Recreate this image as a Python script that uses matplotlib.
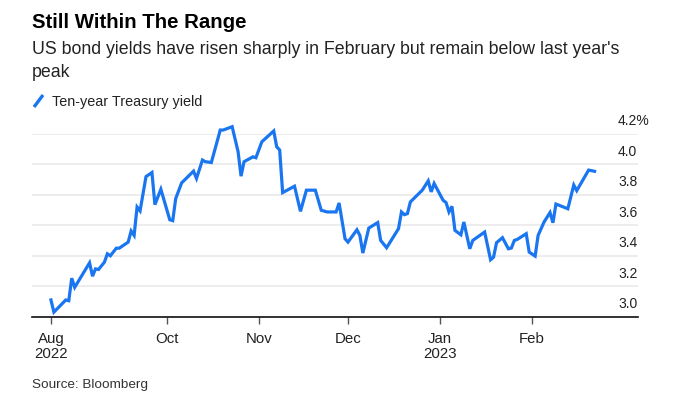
import matplotlib
matplotlib.use("Agg")
import matplotlib.pyplot as plt
from matplotlib.lines import Line2D
import pandas as pd

# 10y Treasury yield at the line's vertices
dates = [
    "2022-08-23", "2022-08-24", "2022-08-28", "2022-08-29", "2022-08-30", "2022-08-31",
    "2022-09-05", "2022-09-06", "2022-09-07", "2022-09-08", "2022-09-10", "2022-09-11",
    "2022-09-12", "2022-09-14", "2022-09-15", "2022-09-18", "2022-09-19", "2022-09-20",
    "2022-09-21", "2022-09-22", "2022-09-24", "2022-09-26", "2022-09-27", "2022-09-29",
    "2022-10-02", "2022-10-03", "2022-10-04", "2022-10-06", "2022-10-10", "2022-10-11",
    "2022-10-13", "2022-10-14", "2022-10-16", "2022-10-19", "2022-10-20", "2022-10-23",
    "2022-10-25", "2022-10-26", "2022-10-27", "2022-10-30", "2022-10-31", "2022-11-02",
    "2022-11-06", "2022-11-07", "2022-11-08", "2022-11-09", "2022-11-13", "2022-11-15",
    "2022-11-17", "2022-11-20", "2022-11-22", "2022-11-24", "2022-11-27", "2022-11-28",
    "2022-11-30", "2022-12-01", "2022-12-04", "2022-12-05", "2022-12-06", "2022-12-08",
    "2022-12-11", "2022-12-12", "2022-12-14", "2022-12-18", "2022-12-19", "2022-12-20",
    "2022-12-21", "2022-12-22", "2022-12-26", "2022-12-28", "2022-12-29", "2022-12-30",
    "2023-01-02", "2023-01-03", "2023-01-04", "2023-01-05", "2023-01-06", "2023-01-08",
    "2023-01-09", "2023-01-11", "2023-01-12", "2023-01-16", "2023-01-18", "2023-01-19",
    "2023-01-20", "2023-01-22", "2023-01-24", "2023-01-25", "2023-01-26", "2023-01-27",
    "2023-01-30", "2023-01-31", "2023-02-02", "2023-02-03", "2023-02-05", "2023-02-07",
    "2023-02-08", "2023-02-09", "2023-02-13", "2023-02-15", "2023-02-16", "2023-02-20",
    "2023-02-22",
]
yields = [
    3.11, 3.03, 3.11, 3.105, 3.253, 3.193,
    3.354, 3.266, 3.314, 3.31, 3.358, 3.413,
    3.40, 3.45, 3.45, 3.49, 3.563, 3.534,
    3.72, 3.695, 3.92, 3.947, 3.736, 3.837,
    3.637, 3.631, 3.776, 3.879, 3.956, 3.908,
    4.029, 4.018, 4.013, 4.226, 4.226, 4.248,
    4.084, 3.923, 4.018, 4.05, 4.044, 4.149,
    4.22, 4.116, 4.095, 3.815, 3.857, 3.692,
    3.831, 3.831, 3.699, 3.688, 3.688, 3.747,
    3.512, 3.49, 3.571, 3.534, 3.418, 3.582,
    3.618, 3.501, 3.453, 3.578, 3.688, 3.670,
    3.677, 3.754, 3.831, 3.892, 3.82, 3.875,
    3.765, 3.75, 3.688, 3.725, 3.567, 3.538,
    3.622, 3.446, 3.501, 3.556, 3.374, 3.391,
    3.486, 3.519, 3.446, 3.451, 3.501, 3.508,
    3.545, 3.424, 3.398, 3.534, 3.622, 3.684,
    3.617, 3.74, 3.709, 3.865, 3.828, 3.963,
    3.955,
]

tick_dates = ["2022-08-23", "2022-10-01", "2022-11-01", "2022-12-01", "2023-01-01", "2023-02-01"]
tick_labels = ["Aug\n2022", "Oct", "Nov", "Dec", "Jan\n2023", "Feb"]
y_levels = [3.0, 3.2, 3.4, 3.6, 3.8, 4.0, 4.2]
y_labels = ["3.0", "3.2", "3.4", "3.6", "3.8", "4.0", "4.2%"]

BLUE = "#1a76f0"
W, H = 673, 399

plt.rcParams["font.family"] = ["Liberation Sans", "DejaVu Sans"]

fig = plt.figure(figsize=(W / 100, H / 100), dpi=100)
ax = fig.add_axes([32 / W, 1 - 316.7 / H, (638 - 32) / W, (316.7 - 134) / H])

ax.plot(pd.to_datetime(dates), yields, color=BLUE, lw=2.3,
        solid_joinstyle="miter", clip_on=False, zorder=3)

ax.set_ylim(3.0, 4.2)
ax.set_xlim(pd.Timestamp("2022-08-16 15:00"), pd.Timestamp("2023-03-08 15:00"))

ax.set_yticks(y_levels)
ax.yaxis.grid(True, color="#e8e8e8", lw=1.1)
ax.tick_params(axis="y", left=False, labelleft=False)
for lev, lab in zip(y_levels, y_labels):
    ax.annotate(lab, xy=(0.967, lev), xycoords=("axes fraction", "data"),
                xytext=(0, 6.2), textcoords="offset points",
                ha="left", va="baseline", fontsize=10, color="#222222",
                annotation_clip=False)

ax.set_xticks(pd.to_datetime(tick_dates))
ax.set_xticklabels(tick_labels, fontsize=10.8, color="#222222")
for lbl in ax.get_xticklabels():
    lbl.set_linespacing(1.05)
ax.tick_params(axis="x", direction="out", length=5, width=1, color="#555555", pad=6)

for side in ["left", "right", "top"]:
    ax.spines[side].set_visible(False)
ax.spines["bottom"].set_color("#111111")
ax.spines["bottom"].set_linewidth(1.2)
ax.set_axisbelow(True)

fig.text(32 / W, 1 - 28.3 / H, "Still Within The Range", fontsize=14.7,
         fontweight="bold", color="#000000", va="baseline")
fig.text(32 / W, 1 - 54.4 / H,
         "US bond yields have risen sharply in February but remain below last year's",
         fontsize=12.8, color="#222222", va="baseline")
fig.text(32 / W, 1 - 77.4 / H, "peak", fontsize=12.8, color="#222222", va="baseline")

fig.add_artist(Line2D([34 / W, 43 / W], [1 - 107 / H, 1 - 95 / H],
                      color=BLUE, lw=2.4, solid_capstyle="butt"))
fig.text(52 / W, 1 - 106.2 / H, "Ten-year Treasury yield", fontsize=10.4,
         color="#222222", va="baseline")

fig.text(32 / W, 1 - 387.8 / H, "Source: Bloomberg", fontsize=9.7,
         color="#333333", va="baseline")

fig.savefig("out.png", dpi=100)
